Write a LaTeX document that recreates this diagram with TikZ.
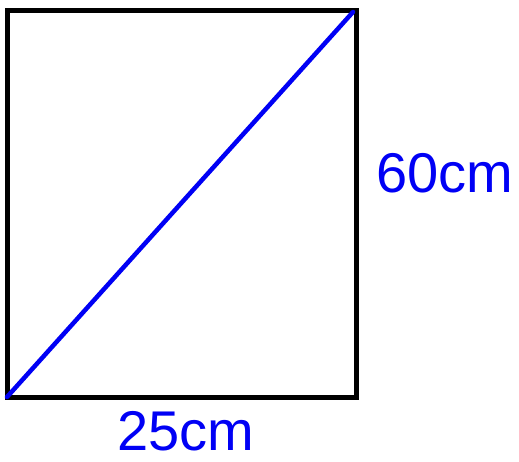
\documentclass[tikz,border=0pt]{standalone}
\usepackage{xcolor}
\usepackage{fontspec}
\setmainfont{Liberation Sans}
\usepackage{tikz}
\definecolor{penblue}{RGB}{0,0,245}
\tikzset{
  boxline/.style={draw=black,line width=5pt,line join=miter},
  diagline/.style={draw=penblue,line width=4.5pt,line cap=round},
  sidelabel/.style={inner sep=0pt,outer sep=0pt,text=penblue,font=\fontsize{56}{62}\selectfont}
}
\begin{document}
\begin{tikzpicture}[x=1pt,y=-1pt]
\path[use as bounding box] (0,0) rectangle (519,461);
\path[fill=white,draw=none] (0,0) rectangle (519,461);
\coordinate (tl) at (7,10);
\coordinate (br) at (356,397);
\coordinate (bl) at (7,397);
\coordinate (tr) at (353,12);
\draw[boxline] (tl) rectangle (br);
\draw[diagline] (bl) -- (tr);
\node[sidelabel,anchor=base] (height) at (445,192) {60cm};
\node[sidelabel,anchor=base] (width) at (186,450) {25cm};
\end{tikzpicture}
\end{document}
